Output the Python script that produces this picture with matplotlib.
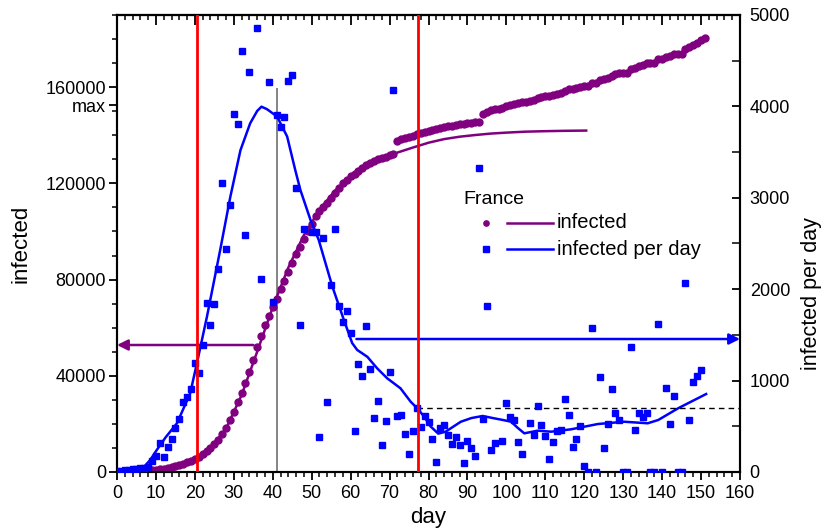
import numpy as np
import matplotlib
matplotlib.use("Agg")
import matplotlib.pyplot as plt
from matplotlib.ticker import MultipleLocator, FixedLocator
from matplotlib.lines import Line2D

plt.rcParams['font.family'] = ['Liberation Sans', 'DejaVu Sans']

nan = np.nan
# ---- data -------------------------------------------------------------
days_per_day = list(range(0, 151))
infected_per_day = [
    10, 15, 20, 25, 33, 30, 47, 40, 58, 124,
    175, 320, 160, 277, 358, 485, 580, 769, 824, 911,
    1196, 1086, 1393, 1852, 1608, 1838, 2221, 3165, 2440, 2925,
    3920, 3804, 4610, 2590, 4376, nan, 4861, 2108, nan, 4267,
    1863, 3906, 3775, 3880, 4281, 4340, 3110, 1605, 2662, nan,
    2630, 2630, 386, 2563, 769, 2042, 2658, 1816, 1645, 1765,
    1524, 449, 1182, 1054, 1597, 1127, 587, 780, 295, 561,
    1094, 4180, 616, 627, 419, 194, 445, 697, 492, 609,
    550, 361, 104, 483, 514, 405, 306, 386, 300, 102,
    343, 266, 175, 3326, 580, 1820, 241, 321, nan, 339,
    755, 605, 569, 328, 200, nan, 532, 408, 719, 518,
    397, 139, 332, 449, 460, 798, 627, 270, 361, 507,
    66, 0, 1579, 0, 1036, 266, 529, 908, 645, 569,
    0, 0, 1368, 460, 649, 602, 645, 0, 0, 1616,
    0, 916, 522, 828, 0, 0, 2071, 569, 988, 1050,
    1119]

days_cum = list(range(8, 152))
infected_cum = [
    600, 750, 900, 1100, 1300, 1600, 1900, 2300, 2800, 3400,            # 8-17
    4000, 4600, 5400, 6400, 7500, 8700, 10000, 11500, 13500, 15800,     # 18-27
    18500, 21500, 25000, 29000, 33000, 37000, 41500, 46500, 52000, 56500,  # 28-37
    61000, 65000, 68500, 72000, 76000, 79500, 83000, 87000, 90500, 93500,  # 38-47
    97000, 100000, 103000, 106500, 108500, 110000, 112000, 114000, 116000, 118000,  # 48-57
    120000, 121500, 123000, 124000, 125000, 126500, 127500, 128500, 129500, 130000,  # 58-67
    130500, 131000, 131700, 132400, 137500, 138300, 138900, 139300, 139900, 140500,  # 68-77
    141000, 141400, 141900, 142300, 142500, 142900, 143300, 143700, 144000, 144300,  # 78-87
    144600, 144800, 145100, 145300, 145500, 145700, 148700, 149700, 150700, 151000,  # 88-97
    151000, 151300, 152100, 152700, 153200, 153600, 153800, 153800, 154300, 154700,  # 98-107
    155400, 155900, 156300, 156500, 156800, 157200, 157700, 158500, 159100, 159400,  # 108-117
    159700, 160200, 160300, 160300, 161900, 161900, 162900, 163200, 163700, 164600,  # 118-127
    165300, 166000, 166000, 166000, 167400, 167900, 168600, 169300, 170000, 170000,  # 128-137
    170000, 171600, 171600, 172500, 173000, 173800, 173800, 173800, 175900, 176600,  # 138-147
    177500, 178500, 179600, 180600]                                      # 148-151

fit_cum_days = [8, 12, 16, 20, 24, 28, 32, 36, 40, 44, 48, 52, 56, 60, 64, 68,
                72, 76, 80, 84, 88, 92, 96, 100, 105, 110, 115, 120.5]
fit_cum_vals = [700, 1400, 2900, 5500, 10000, 18000, 32000, 50000, 68500, 85000,
                98500, 109000, 117000, 122500, 126700, 130000, 132800, 134900,
                136900, 138400, 139400, 140100, 140700, 141100, 141500, 141700,
                141850, 141950]

fit_pd_days = [0, 4, 6.8, 8.5, 10.2, 12.5, 15.4, 18.8, 20.7, 23.1, 26.5, 29.1, 31.7,
               34.2, 36, 37.1, 38.5, 41.1, 43.7, 45.8, 47.1, 49.7, 51.8, 55.3, 58.3,
               60.4, 61.7, 64.3, 66.8, 69.4, 72.8, 75.4, 77.1, 78.9, 80.5, 82.5,
               84.4, 86.5, 88.3, 91, 93.9, 96.9, 99, 101.2, 103, 104.6, 108, 111.5,
               116.6, 123.5, 130.3, 136.3, 139, 144.1, 151.3]
fit_pd_vals = [0, 2, 50, 130, 240, 380, 533, 861, 1225, 1699, 2429, 3010, 3520,
               3815, 3950, 3997, 3970, 3890, 3670, 3300, 3085, 2757, 2540, 2030, 1660,
               1410, 1335, 1260, 1135, 1025, 916, 770, 697, 605, 500, 420,
               441, 500, 550, 590, 613, 587, 570, 550, 480, 423, 452, 441,
               467, 525, 550, 533, 569, 697, 853]

red_days = [20.5, 77.2]
max_day = 41
max_value_left = 159500
max_label_left = 152500
purple_arrow = (35, 0, 52800)       # from day, to day, left value
blue_arrow = (61.5, 160, 1455)      # from day, to day, right value
plateau = (77, 160, 700)            # dashed line on right axis

PURPLE = '#800080'
BLUE = '#0000ff'

# ---- figure ------------------------------------------------------------
W, H = 825, 528
fig = plt.figure(figsize=(W / 100, H / 100), dpi=100)
ax = fig.add_axes([117 / W, 1 - 472 / H, (740 - 117) / W, (472 - 15) / H])
ax2 = ax.twinx()

ax.set_xlim(0, 160)
ax.set_ylim(0, 190000)
ax2.set_ylim(0, 5000)

# cumulative (left)
ax.plot(fit_cum_days, fit_cum_vals, color=PURPLE, lw=1.8, zorder=2)
ax.plot(days_cum, infected_cum, 'o', color=PURPLE, ms=5, mec=PURPLE, zorder=3)
ax.vlines(max_day, 0, max_value_left, color='#707070', lw=1.2, zorder=1)
ax.annotate('', xy=(purple_arrow[1], purple_arrow[2]), xytext=(purple_arrow[0], purple_arrow[2]),
            arrowprops=dict(arrowstyle='-|>', color=PURPLE, lw=1.8, mutation_scale=16,
                            shrinkA=0, shrinkB=0), zorder=4)

# per day (right)
ax2.plot(fit_pd_days, fit_pd_vals, color=BLUE, lw=1.8, zorder=2)
ax2.plot(days_per_day, infected_per_day, 's', color=BLUE, ms=5, mec=BLUE, zorder=3)
ax2.hlines(plateau[2], plateau[0], plateau[1], colors='black', linestyles=(0, (4, 3)), lw=1.0)
ax2.annotate('', xy=(blue_arrow[1], blue_arrow[2]), xytext=(blue_arrow[0], blue_arrow[2]),
             arrowprops=dict(arrowstyle='-|>', color=BLUE, lw=1.8, mutation_scale=16,
                             shrinkA=0, shrinkB=0), zorder=4)
for d in red_days:
    ax2.axvline(d, color='#ff0000', lw=2.0, zorder=5)

# ---- axes styling --------------------------------------------------------
for a in (ax, ax2):
    for s in a.spines.values():
        s.set_linewidth(1.5)

ax.xaxis.set_major_locator(MultipleLocator(10))
ax.xaxis.set_minor_locator(MultipleLocator(2))
ax.tick_params(axis='x', which='major', direction='out', length=6, width=1.3, labelsize=13, pad=3)
ax.tick_params(axis='x', which='minor', direction='out', length=3.5, width=1.1)

left_ticks = [0, 40000, 80000, 120000, 160000, max_label_left]
left_labels = ['0', '40000', '80000', '120000', '160000', 'max']
ax.yaxis.set_major_locator(FixedLocator(left_ticks))
ax.set_yticklabels(left_labels)
ax.yaxis.set_minor_locator(MultipleLocator(10000))
ax.tick_params(axis='y', which='major', direction='out', length=6, width=1.3, labelsize=13, pad=2)
ax.tick_params(axis='y', which='minor', direction='out', length=3.5, width=1.1)

ax2.yaxis.set_major_locator(MultipleLocator(1000))
ax2.yaxis.set_minor_locator(MultipleLocator(500))
ax2.tick_params(axis='y', which='major', direction='in', length=6, width=1.3, labelsize=13, pad=7)
ax2.tick_params(axis='y', which='minor', direction='in', length=6, width=1.1)

top = ax.secondary_xaxis('top')
top.xaxis.set_major_locator(MultipleLocator(10))
top.xaxis.set_minor_locator(MultipleLocator(2))
top.tick_params(axis='x', which='major', direction='in', length=7, width=1.3, labeltop=False)
top.tick_params(axis='x', which='minor', direction='in', length=3.5, width=1.1)
top.spines['top'].set_linewidth(1.5)

ax.set_xlabel('day', fontsize=16, labelpad=4)
ax.set_ylabel('infected', fontsize=16, labelpad=10)
ax2.set_ylabel('infected per day', fontsize=15.5)
ax2.yaxis.set_label_coords(1.098, 0.39)

# ---- legend (manual) -----------------------------------------------------
ft = fig.transFigure
def fx(x):
    return x / W
def fy(y):
    return 1 - y / H
fig.text(fx(463), fy(200), 'France', fontsize=14, va='center', ha='left')
fig.add_artist(Line2D([fx(486)], [fy(223)], marker='o', color=PURPLE, ms=3.8, transform=ft))
fig.add_artist(Line2D([fx(507), fx(553)], [fy(223), fy(223)], color=PURPLE, lw=1.8, transform=ft))
fig.text(fx(557), fy(223), 'infected', fontsize=14.5, va='center', ha='left')
fig.add_artist(Line2D([fx(486)], [fy(249)], marker='s', color=BLUE, ms=3.8, transform=ft))
fig.add_artist(Line2D([fx(507), fx(553)], [fy(249), fy(249)], color=BLUE, lw=1.8, transform=ft))
fig.text(fx(557), fy(249), 'infected per day', fontsize=14.5, va='center', ha='left')

fig.savefig('out.png', dpi=100)
